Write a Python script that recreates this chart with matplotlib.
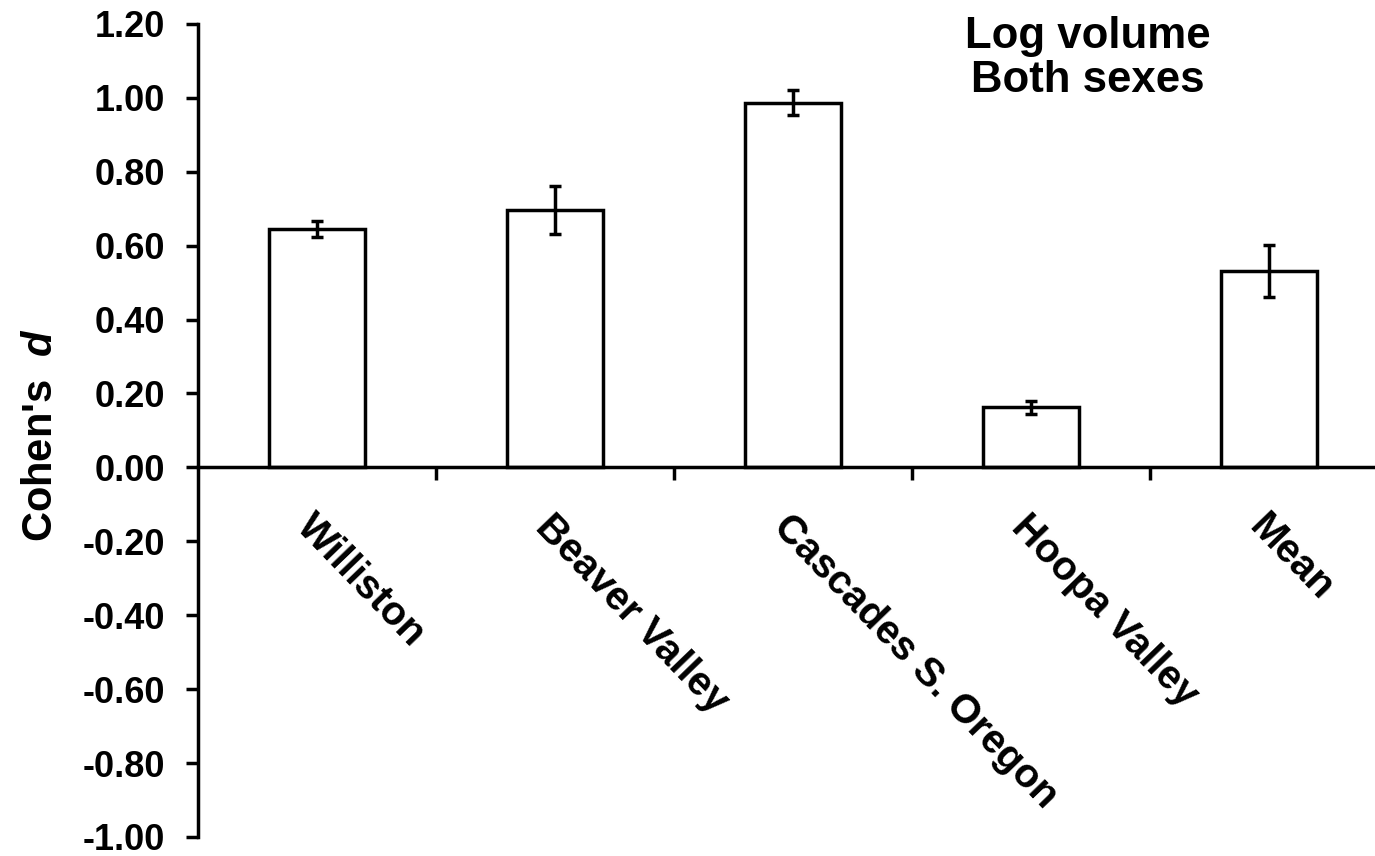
import numpy as np
import matplotlib
matplotlib.use("Agg")
import matplotlib.pyplot as plt

plt.rcParams['font.family'] = ['Liberation Sans', 'DejaVu Sans']
plt.rcParams['font.weight'] = 'bold'
plt.rcParams['mathtext.fontset'] = 'custom'
plt.rcParams['mathtext.it'] = 'Liberation Sans:bold:italic'
plt.rcParams['mathtext.rm'] = 'Liberation Sans:bold'

# effect sizes per site, with standard errors
sites = ["Williston", "Beaver Valley", "Cascades S. Oregon", "Hoopa Valley", "Mean"]
cohens_d = [0.645, 0.695, 0.987, 0.162, 0.531]
errors = [0.022, 0.065, 0.033, 0.018, 0.070]
y_ticks = [-1.0, -0.8, -0.6, -0.4, -0.2, 0.0, 0.2, 0.4, 0.6, 0.8, 1.0, 1.2]

fig = plt.figure(figsize=(13.75, 8.56), dpi=100)
ax = fig.add_axes([0.144, 0.0222, 0.8655, 0.950])

x = np.arange(len(sites))
ax.bar(x, cohens_d, width=0.40, color="white", edgecolor="black", linewidth=2.5, zorder=2)
ax.errorbar(x, cohens_d, yerr=errors, fmt="none", ecolor="black",
            elinewidth=2.5, capsize=4, capthick=2.5, zorder=3)

ax.set_xlim(-0.5, len(sites) - 0.5)
ax.set_ylim(-1.0, 1.2)
ax.set_yticks(y_ticks)
ax.set_yticklabels([f"{v:.2f}" for v in y_ticks])

# spines: y axis on the left, x axis through zero
for side in ["top", "right"]:
    ax.spines[side].set_visible(False)
ax.spines["bottom"].set_position(("data", 0))
ax.spines["left"].set_linewidth(2.5)
ax.spines["bottom"].set_linewidth(2.5)

# major x ticks between categories, labels on minor ticks at the bar centres
ax.set_xticks(np.arange(0.5, len(sites) - 0.5, 1.0))
ax.set_xticklabels([])
ax.set_xticks(x, minor=True)
ax.set_xticklabels(sites, minor=True, rotation=-46, ha="left", va="top",
                   rotation_mode="anchor", fontsize=29)
ax.tick_params(axis="x", which="major", direction="out", length=9, width=2.5)
ax.tick_params(axis="x", which="minor", length=0, pad=29)
ax.tick_params(axis="y", direction="out", length=9, width=2.5, labelsize=26, pad=15)

ax.set_ylabel(r"Cohen's  $d$", fontsize=30, fontweight="bold")
ax.yaxis.set_label_coords(-0.115, 0.494)

fig.text(1088 / 1375, 1 - 16 / 856, "Log volume\nBoth sexes", ha="center", va="top",
         fontsize=31.5, linespacing=1.1)

fig.savefig("out.png", dpi=100)
